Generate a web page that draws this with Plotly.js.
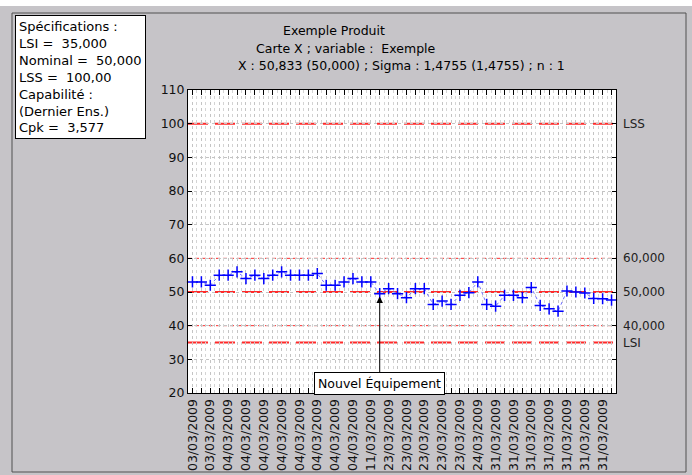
<!DOCTYPE html>
<html>
<head>
<meta charset="utf-8">
<script src="https://cdn.plot.ly/plotly-3.0.1.min.js"></script>
<style>html,body{margin:0;padding:0;background:#c6c4c8;}#chart{width:692px;height:475px;}</style>
</head>
<body>
<div id="chart"></div>
<script>
// ---- data ----
const tickLabels = ["03/03/2009","03/03/2009","04/03/2009","04/03/2009","04/03/2009","04/03/2009",
  "04/03/2009","04/03/2009","04/03/2009","04/03/2009","11/03/2009","23/03/2009",
  "23/03/2009","23/03/2009","23/03/2009","23/03/2009","24/03/2009","31/03/2009",
  "31/03/2009","31/03/2009","31/03/2009","31/03/2009","31/03/2009","31/03/2009"];
const values = [53,53,52,55,55,56,54,55,54,55,56,55,55,55,55.5,52,52,53,54,53,53,49.5,51,49.5,
  48.3,51,51,46.3,47.3,46.3,49,49.8,53,46.3,45.8,49,49,48.3,51.3,46,45,44.3,50.3,50,49.7,48.1,48,47.6];
const specLimits = {LSI: 35, LSS: 100};
const centerLine = 50;
const controlLimits = [40, 60];
const rightLabels = [["LSS",100],["60,000",60],["50,000",50],["40,000",40],["LSI",35]];
const specText = ["Spécifications :","LSI =  35,000","Nominal =  50,000","LSS =  100,00","Capabilité :","(Dernier Ens.)","Cpk =  3,577"];
const titleLines = ["Exemple Produit","Carte X ; variable :  Exemple","X : 50,833 (50,000) ; Sigma : 1,4755 (1,4755) ; n : 1"];
const eventIndex = 21;
const eventText = "Nouvel Équipement";

// ---- layout helpers ----
const L = 188, R = 616, T = 90, B = 393, W = 692, H = 475;
const px = x => (x - L) / (R - L);
const py = y => (B - y) / (B - T);

const xs = values.map((_, i) => i);
const tickvals = xs;
const ticktext = xs.map(i => i % 2 === 0 ? tickLabels[i / 2] : "");

const font = "DejaVu Sans, Verdana, sans-serif";
const red = "#ff2a2a";

const traces = [{
  x: xs, y: values, type: "scatter", mode: "lines+markers",
  line: {color: "#7070ff", width: 1, dash: "dot"},
  marker: {symbol: "cross-thin", size: 8, line: {color: "#0000ff", width: 1.5}, color: "#0000ff"},
  hoverinfo: "skip", cliponaxis: false
}];

const shapes = [
  {type: "rect", xref: "paper", yref: "paper", x0: px(0), x1: px(W), y0: py(0), y1: py(6), fillcolor: "#ffffff", line: {width: 0}, layer: "below"},
  {type: "rect", xref: "paper", yref: "paper", x0: px(12), x1: px(686), y0: py(13), y1: py(472), line: {color: "#505050", width: 1}, layer: "below"},
  {type: "line", xref: "paper", yref: "y", x0: 0, x1: 1, y0: specLimits.LSS, y1: specLimits.LSS, line: {color: red, width: 2, dash: "20px,7px"}, layer: "between"},
  {type: "line", xref: "paper", yref: "y", x0: 0, x1: 1, y0: specLimits.LSI, y1: specLimits.LSI, line: {color: red, width: 2, dash: "20px,7px"}, layer: "between"},
  {type: "line", xref: "paper", yref: "y", x0: 0, x1: 1, y0: centerLine, y1: centerLine, line: {color: red, width: 2, dash: "20px,7px"}, layer: "between"},
];
controlLimits.forEach(v => shapes.push({type: "line", xref: "paper", yref: "y", x0: 0, x1: 1, y0: v, y1: v, line: {color: red, width: 1, dash: "4px,3px"}, layer: "between"}));

const annotations = [];
annotations.push({xref: "paper", yref: "paper", x: px(15), y: py(15), xanchor: "left", yanchor: "top",
  text: specText.join("<br>"), align: "left", showarrow: false,
  font: {family: font, size: 13, color: "#000"}, bgcolor: "#ffffff", bordercolor: "#000000", borderwidth: 1, borderpad: 3});
const titlePos = [[334, 31], [346, 48], [401, 66]];
titleLines.forEach((t, i) => annotations.push({xref: "paper", yref: "paper", x: px(titlePos[i][0]), y: py(titlePos[i][1]),
  xanchor: "center", yanchor: "middle", text: t, showarrow: false, font: {family: font, size: 12.5, color: "#000"}}));
rightLabels.forEach(([t, v]) => annotations.push({xref: "paper", yref: "y", x: px(621), y: v, xanchor: "left", yanchor: "middle",
  text: t, showarrow: false, font: {family: font, size: 12, color: "#222"}}));
annotations.push({x: eventIndex, y: 48.7, xref: "x", yref: "y", text: eventText, showarrow: true,
  ax: 0, ay: 87, arrowhead: 2, arrowsize: 1.3, arrowwidth: 1, arrowcolor: "#000",
  font: {family: font, size: 12.5, color: "#000"}, bgcolor: "#ffffff", bordercolor: "#000", borderwidth: 1, borderpad: 3});

const layout = {
  width: W, height: H,
  margin: {l: L, r: W - R, t: T, b: H - B, pad: 0},
  paper_bgcolor: "#c6c4c8", plot_bgcolor: "#ffffff",
  showlegend: false,
  font: {family: font, size: 12, color: "#000"},
  xaxis: {range: [-0.5, values.length - 0.5], tickmode: "array", tickvals: tickvals, ticktext: ticktext,
    tickangle: -90, ticks: "inside", ticklen: 5, tickcolor: "#000", mirror: "ticks", showline: true, linecolor: "#000", linewidth: 1,
    showgrid: true, gridcolor: "#c4c4c4", griddash: "dot", gridwidth: 1, zeroline: false,
    minor: {tickmode: "linear", tick0: 0.5, dtick: 1, showgrid: true, gridcolor: "#d4d4d4", griddash: "dot", gridwidth: 1, ticks: ""},
    tickfont: {family: font, size: 12.5, color: "#111"}, fixedrange: true},
  yaxis: {range: [20, 110], dtick: 10, tick0: 0, ticks: "inside", ticklen: 4, tickcolor: "#000", mirror: "ticks",
    showline: true, linecolor: "#000", linewidth: 1, showgrid: true, gridcolor: "#c4c4c4", griddash: "dot", zeroline: false,
    tickfont: {family: font, size: 12.5, color: "#111"}, fixedrange: true},
  shapes: shapes, annotations: annotations
};

Plotly.newPlot("chart", traces, layout, {staticPlot: true});
</script>
</body>
</html>
